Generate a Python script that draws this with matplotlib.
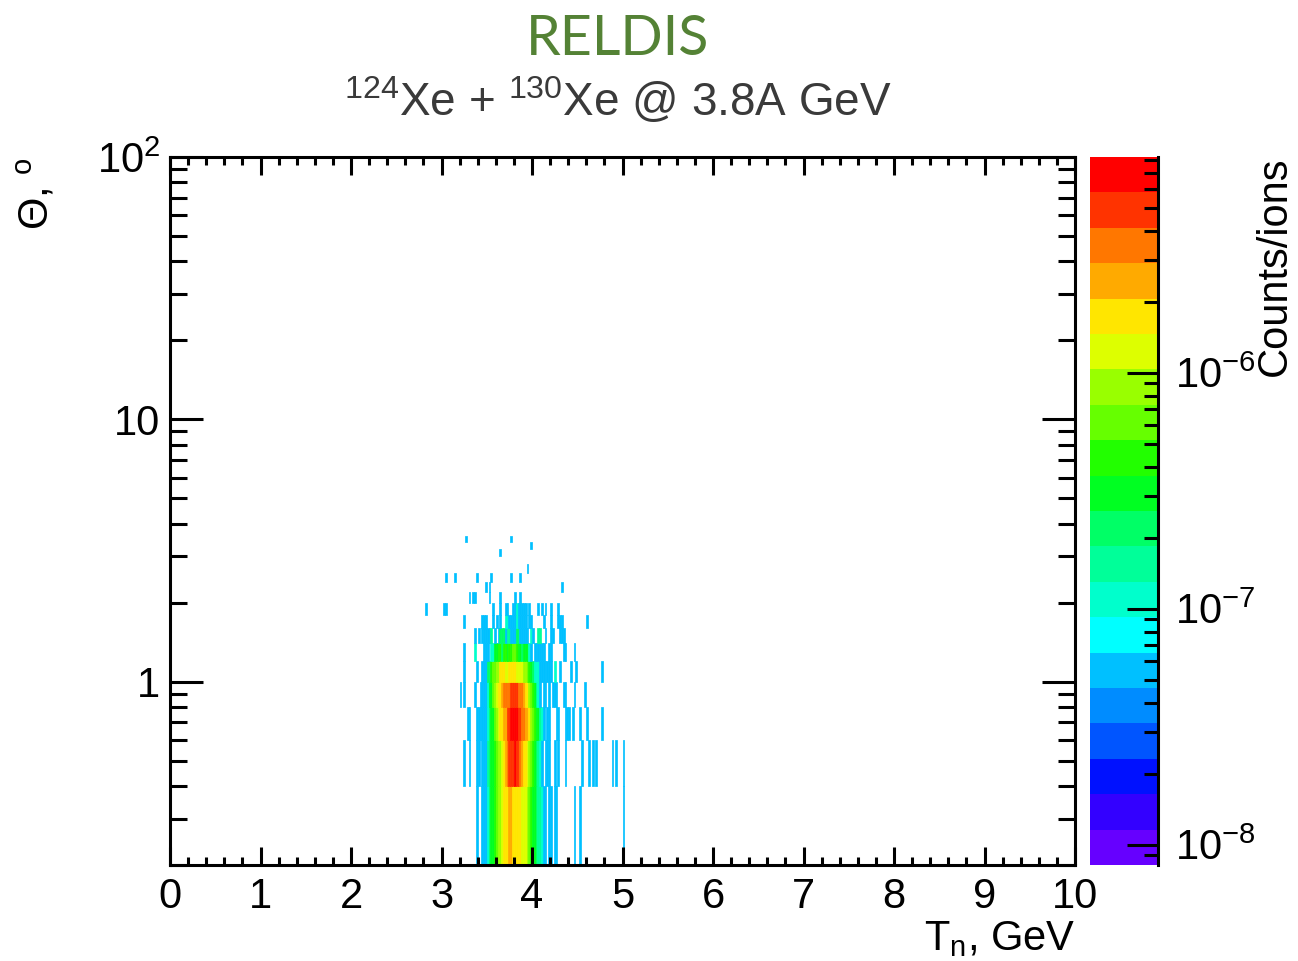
import numpy as np
import matplotlib
matplotlib.use("Agg")
import matplotlib.pyplot as plt
from matplotlib.colors import ListedColormap, LogNorm
from matplotlib.ticker import FixedLocator, FixedFormatter, LogLocator, NullFormatter, MultipleLocator

plt.rcParams['font.family'] = ['Liberation Sans', 'DejaVu Sans']
plt.rcParams['mathtext.fontset'] = 'custom'
plt.rcParams['mathtext.rm'] = 'Liberation Sans'
plt.rcParams['mathtext.it'] = 'Liberation Sans:italic'
plt.rcParams['mathtext.bf'] = 'Liberation Sans:bold'
plt.rcParams['mathtext.sf'] = 'Liberation Sans'
plt.rcParams['mathtext.default'] = 'regular'

# ---------------- texts ----------------
title = "RELDIS"
subtitle = r"$^{124}$Xe + $^{130}$Xe @ 3.8A GeV"
x_label = r"T$_{n}$, GeV"
y_label = r"$\Theta$, $^{o}$"
z_label = "Counts/ions"

# ---------------- axes ----------------
x_min, x_max = 0.0, 10.0
y_min, y_max = 0.2, 100.0
z_min, z_max = 8.2e-9, 8.2e-6
x_ticks = [0, 1, 2, 3, 4, 5, 6, 7, 8, 9, 10]
x_tick_labels = ["0", "1", "2", "3", "4", "5", "6", "7", "8", "9", "10"]
y_ticks = [1, 10, 100]
y_tick_labels = ["1", "10", r"$10^{2}$"]
z_ticks = [1e-8, 1e-7, 1e-6]
z_tick_labels = [r"$10^{-8}$", r"$10^{-7}$", r"$10^{-6}$"]

# ---------------- palette (20 log-spaced bands, bottom -> top) ----------------
band_colors = ["#6600ff", "#3300ff", "#0011ff", "#0055ff", "#008cff",
               "#00c0ff", "#00ffff", "#00ffcc", "#00ff99", "#00ff66",
               "#00ff22", "#22ff00", "#66ff00", "#99ff00", "#ddff00",
               "#ffe600", "#ffaa00", "#ff7700", "#ff3300", "#ff0000"]
band_codes = "0123456789abcdefghij"   # cell code -> colour band index

# ---------------- histogram cells ----------------
# energy bins of 0.02 GeV starting at 2.80 GeV (groups of 10 bins = 0.2 GeV)
# theta rows of 0.2 deg, listed from the bottom row (0.2-0.4 deg) upwards
energy_first_edge = 2.80
energy_bin_width = 0.02
theta_first_edge = 0.2
theta_bin_width = 0.2

rows = [
    ".......... .......... .........5 ..55579aab cddefffggf ffffeeedcb aa988755.5 5.55...... ...5..5... .......... .......... 5.........",  # 0.2-0.4
    ".......... .......... ..5..5...5 5.55589aab cddefghiii jiihgffedc ba9875.555 ..5.5...5. .......5.. .5.5.5.... ....5.5... 5.........",  # 0.4-0.6
    ".......... .......... ....55...5 5555579aac deffggiijj jjiihhggfd cbaa875.55 ...55...55 5.5...5... 5.......5. .......... ..........",  # 0.6-0.8
    ".......... .......... 5.5.....5. .55557aacd effghhhhii iihhhgffdc ba875.55.5 .555...55. ...5.....5 .......... .......... ..........",  # 0.8-1.0
    ".......... .......... ..5......5 ..55599bcc ddfffeefff feeeeddcba 9777555555 5.7..5.... .5..5..... ........5. .......... ..........",  # 1.0-1.2
    ".......... .......... ..5.....7. ...555.77a abb9bbabbc cbaa9aaa75 .555555..5 5......55. ...5...... .......... .......... ..........",  # 1.2-1.4
    ".......... .......... ........5. 5.555558.5 .599958855 59955555.7 5..88..5.. 55...555.. .......... .......... .......... ..........",  # 1.4-1.6
    ".......... .......... ..5....... ..555...5. 5.5..77555 5755555.55 ......5... 5...555... .......... 5......... .......... ..........",  # 1.6-1.8
    ".5........ .55....... .......... ........5. ..5..55..5 5755555.5. ...5.5.5.. 5...5..... .......... .......... .......... ..........",  # 1.8-2.0
    ".......... .......... .....5.55. ......5... ..5....... 5..5...... .......... .......... .......... .......... .......... ..........",  # 2.0-2.2
    ".......... .......... .......... ....5.5... .......... .......... .......... ......5... .......... .......... .......... ..........",  # 2.2-2.4
    ".......... ..5....5.. .........5 .......5.. ........5. ...5...... .......... .......... .......... .......... .......... ..........",  # 2.4-2.6
    ".......... .......... .......... .......... .......... .......5.. .......... .......... .......... .......... .......... ..........",  # 2.6-2.8
    ".......... .......... .......... .......... .......... .......... .......... .......... .......... .......... .......... ..........",  # 2.8-3.0
    ".......... .......... .......... .......... ..5....... .......... .......... .......... .......... .......... .......... ..........",  # 3.0-3.2
    ".......... .......... .......... .......... .......... .........5 .......... .......... .......... .......... .......... ..........",  # 3.2-3.4
    ".......... .......... ...5...... .......... ........5. .......... .......... .......... .......... .......... .......... ..........",  # 3.4-3.6
]

# ---------------- build grid ----------------
cells = [r.replace(" ", "") for r in rows]
n_x = max(len(c) for c in cells)
n_y = len(cells)
n_bands = len(band_colors)
grid = np.full((n_y, n_x), np.nan)
for r, c in enumerate(cells):
    for k, ch in enumerate(c):
        if ch != ".":
            b = band_codes.index(ch)
            grid[r, k] = z_min * (z_max / z_min) ** ((b + 0.5) / n_bands)
x_edges = energy_first_edge + energy_bin_width * np.arange(n_x + 1)
y_edges = theta_first_edge + theta_bin_width * np.arange(n_y + 1)

cmap = ListedColormap(band_colors)
norm = LogNorm(vmin=z_min, vmax=z_max)

W, H = 1298, 961
fig = plt.figure(figsize=(W / 100, H / 100), dpi=100)
ax = fig.add_axes([170 / W, 1 - 865 / H, (1075 - 170) / W, (865 - 157) / H])
cax = fig.add_axes([1090 / W, 1 - 865 / H, (1158 - 1090) / W, (865 - 157) / H])

mesh = ax.pcolormesh(x_edges, y_edges, np.ma.masked_invalid(grid), cmap=cmap, norm=norm,
                     shading="flat", antialiased=True, edgecolors="face", linewidth=0.5)
ax.set_xlim(x_min, x_max)
ax.set_yscale("log")
ax.set_ylim(y_min, y_max)

lw = 2.2
for s in ax.spines.values():
    s.set_linewidth(lw)
    s.set_zorder(5)

ax.xaxis.set_major_locator(FixedLocator(x_ticks))
ax.xaxis.set_major_formatter(FixedFormatter(x_tick_labels))
ax.xaxis.set_minor_locator(MultipleLocator(0.2))
ax.yaxis.set_major_locator(FixedLocator(y_ticks))
ax.yaxis.set_major_formatter(FixedFormatter(y_tick_labels))
ax.yaxis.set_minor_locator(LogLocator(base=10, subs=np.arange(2, 10)))
ax.yaxis.set_minor_formatter(NullFormatter())

fs = 30
ax.tick_params(axis="x", which="both", direction="in", top=True, bottom=True, width=lw,
               labelsize=fs, pad=9)
ax.tick_params(axis="x", which="major", length=13)
ax.tick_params(axis="x", which="minor", length=6)
ax.tick_params(axis="y", which="both", direction="in", left=True, right=True, width=lw,
               labelsize=fs, pad=7)
ax.tick_params(axis="y", which="major", length=24)
ax.tick_params(axis="y", which="minor", length=12)

cb = fig.colorbar(mesh, cax=cax)
cb.outline.set_visible(False)
cb.set_ticks(z_ticks)
cb.set_ticklabels(z_tick_labels)
cax.yaxis.set_minor_locator(LogLocator(base=10, subs=np.arange(2, 10)))
cax.yaxis.set_minor_formatter(NullFormatter())
cax.tick_params(axis="y", which="both", direction="in", right=True, left=False, width=lw,
                labelsize=fs, pad=12)
cax.tick_params(axis="y", which="major", length=22)
cax.tick_params(axis="y", which="minor", length=10)
cax.axvline(1.0, color="black", lw=lw, clip_on=False, zorder=5)

# titles and labels
fig.text(618 / W, 1 - 55 / H, title, color="#548235", fontsize=40, ha="center",
         va="baseline", family=["Lato", "DejaVu Sans"])
fig.text(618 / W, 1 - 116 / H, subtitle, color="#3a3a3a", fontsize=33, ha="center",
         va="baseline")
fig.text(1075 / W, 1 - 950 / H, x_label, fontsize=fs, ha="right", va="baseline")
fig.text(37 / W, 1 - 157 / H, y_label, fontsize=fs, ha="center", va="top", rotation=90)
fig.text(1275 / W, 1 - 157 / H, z_label, fontsize=fs, ha="center", va="top", rotation=90)

fig.savefig("out.png", dpi=100)
